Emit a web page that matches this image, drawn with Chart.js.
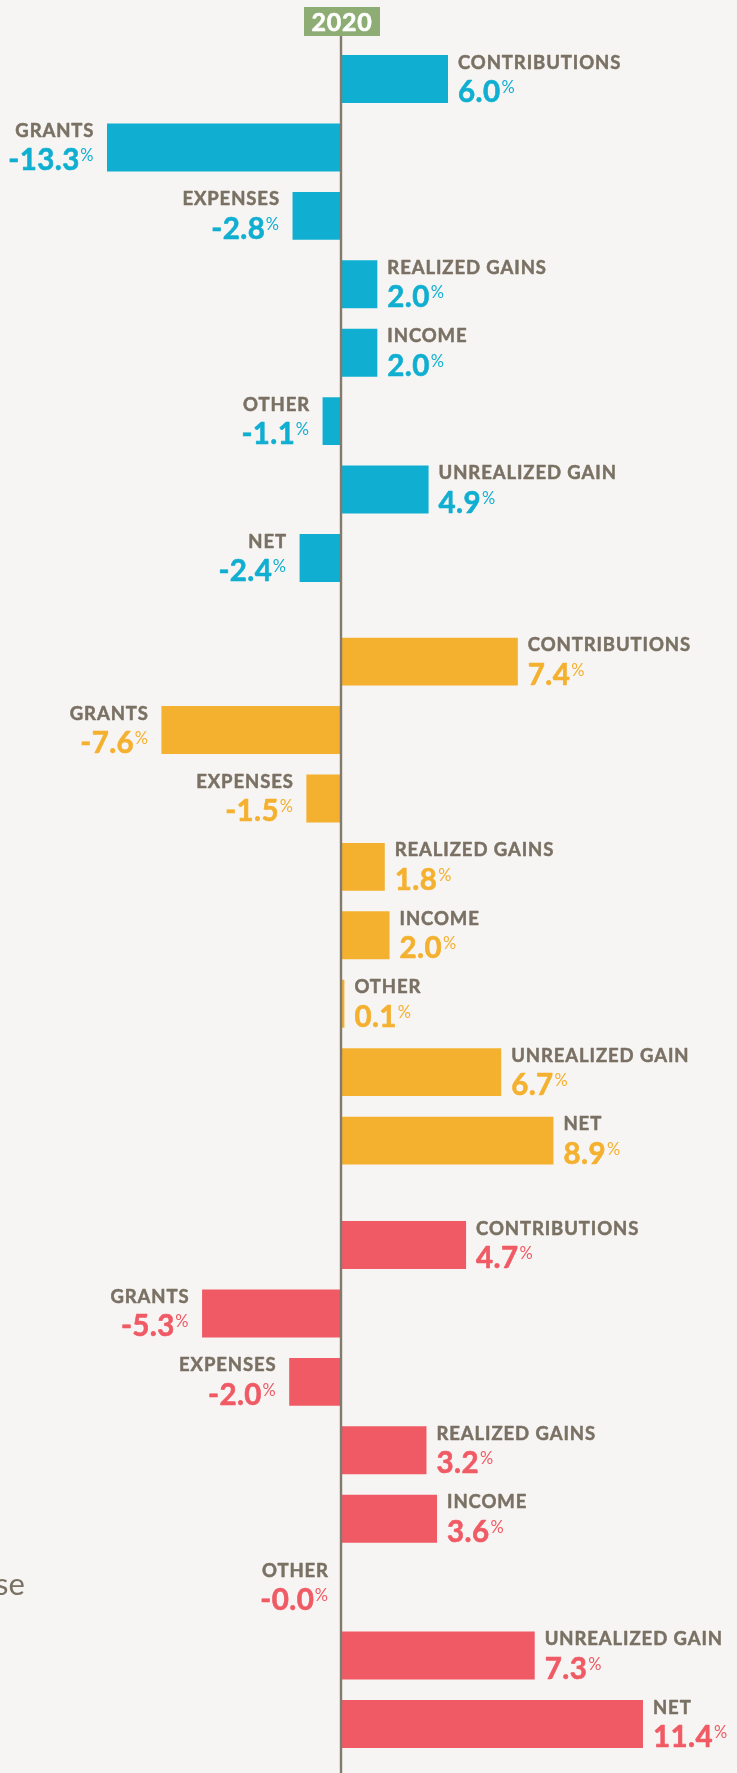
<!DOCTYPE html>
<html>
<head>
<meta charset="utf-8">
<script src="https://cdn.jsdelivr.net/npm/chart.js@4/dist/chart.umd.min.js"></script>
<style>
  html, body { margin: 0; padding: 0; background: #f7f5f3; }
  body { width: 737px; height: 1773px; position: relative; overflow: hidden; }
  canvas { position: absolute; left: 0; }
  .frag { position: absolute; left: -5px; top: 1564px; font: 400 31px Lato, sans-serif; color: #7a7164; }
</style>
</head>
<body>
<canvas id="c1"></canvas>
<canvas id="c2"></canvas>
<canvas id="c3"></canvas>
<div class="frag">se</div>
<script>
// Line items, in drawing order top to bottom within each block
const categories = ["CONTRIBUTIONS", "GRANTS", "EXPENSES", "REALIZED GAINS", "INCOME", "OTHER", "UNREALIZED GAIN", "NET"];

// Percentage changes per block
const blueValues   = [6.0, -13.3, -2.8, 2.0, 2.0, -1.1, 4.9, -2.4];
const yellowValues = [7.4, -7.6, -1.5, 1.8, 2.0, 0.1, 6.7, 8.9];
const redValues    = [4.7, -5.3, -2.0, 3.2, 3.6, -0.02, 7.3, 11.4];

const yearLabel = "2020";

const NAME_COLOR = "#7a7164";
const AXIS_COLOR = "#837a6e";

const NAME_FONT = "700 18.5px Lato, sans-serif";
const NAME_SPACING = "0.9px";
const NUM_FONT = "700 29.5px Lato, sans-serif";
const NUM_SPACING = "0.4px";
const PCT_FONT = "400 16.5px Lato, sans-serif";

// text with a thin outline in the fill colour, for a heavier look
function heavyText(ctx, text, x, y, font, spacing, w) {
  ctx.font = font;
  ctx.letterSpacing = spacing;
  ctx.fillText(text, x, y);
  if (w > 0) {
    ctx.lineWidth = w;
    ctx.strokeStyle = ctx.fillStyle;
    ctx.lineJoin = "round";
    ctx.strokeText(text, x, y);
  }
}

function textWidth(ctx, text, font, spacing) {
  ctx.font = font;
  ctx.letterSpacing = spacing;
  return ctx.measureText(text).width;
}

// Draws the centre axis line, the year tag and the bar annotations
const annotate = {
  id: "annotate",
  afterDatasetsDraw(chart, args, opts) {
    const ctx = chart.ctx;
    const xs = chart.scales.x;
    const zero = xs.getPixelForValue(0);
    const meta = chart.getDatasetMeta(0);
    const ds = chart.data.datasets[0];

    ctx.save();
    // axis line
    ctx.fillStyle = AXIS_COLOR;
    ctx.fillRect(zero - 2.2, opts.lineTop || 0, 2.4, chart.height);

    // year tag
    if (opts.tag) {
      ctx.fillStyle = "#8dad74";
      ctx.fillRect(zero - 38, 7, 76, 29);
      ctx.fillStyle = "#ffffff";
      ctx.textAlign = "center";
      ctx.textBaseline = "alphabetic";
      heavyText(ctx, opts.tag, zero, 31, "700 25px Lato, sans-serif", "0.8px", 0.6);
    }

    meta.data.forEach((bar, i) => {
      const v = ds.data[i];
      const top = bar.y - bar.height / 2;
      const bottom = bar.y + bar.height / 2;
      const num = v.toFixed(1);
      ctx.textBaseline = "alphabetic";

      const nameY = top + 13.5;
      const valY = bottom - 1;
      const numW = textWidth(ctx, num, NUM_FONT, NUM_SPACING);
      const pctW = textWidth(ctx, "%", PCT_FONT, "0px");

      if (v >= 0) {
        const sx = Math.max(bar.x, bar.base) + 10;
        ctx.textAlign = "left";
        ctx.fillStyle = NAME_COLOR;
        heavyText(ctx, categories[i], sx, nameY, NAME_FONT, NAME_SPACING, 0.5);
        ctx.fillStyle = ds.backgroundColor;
        heavyText(ctx, num, sx, valY, NUM_FONT, NUM_SPACING, 0.6);
        heavyText(ctx, "%", sx + numW + 1, valY - 9, PCT_FONT, "0px", 0);
      } else {
        const ex = Math.min(bar.x, bar.base) - 13.5;
        ctx.textAlign = "right";
        ctx.fillStyle = NAME_COLOR;
        heavyText(ctx, categories[i], ex + 0.9, nameY, NAME_FONT, NAME_SPACING, 0.5);
        ctx.fillStyle = ds.backgroundColor;
        heavyText(ctx, "%", ex, valY - 9, PCT_FONT, "0px", 0);
        heavyText(ctx, num, ex - pctW - 1 + 0.4, valY, NUM_FONT, NUM_SPACING, 0.6);
      }
    });
    ctx.restore();
  }
};

const WIDTH = 737;
const ZERO_X = 342;

function makeBlock(id, values, color, cfg) {
  const el = document.getElementById(id);
  el.width = WIDTH;
  el.height = cfg.height;
  el.style.top = cfg.top + "px";
  // horizontal scale: pixels per percent point, zero placed at ZERO_X
  const min = -ZERO_X / cfg.perPct;
  const max = (WIDTH - ZERO_X) / cfg.perPct;
  return new Chart(el, {
    type: "bar",
    data: {
      labels: categories,
      datasets: [{
        data: values,
        backgroundColor: color,
        borderWidth: 0,
        categoryPercentage: 1,
        barPercentage: 0.70
      }]
    },
    options: {
      indexAxis: "y",
      responsive: false,
      animation: false,
      events: [],
      layout: { padding: { top: cfg.padTop, bottom: cfg.padBottom, left: 0, right: 0 } },
      scales: {
        x: { type: "linear", min: min, max: max, display: false },
        y: { type: "category", display: false }
      },
      plugins: {
        legend: { display: false },
        tooltip: { enabled: false },
        annotate: { tag: cfg.tag, lineTop: cfg.lineTop }
      }
    },
    plugins: [annotate]
  });
}

makeBlock("c1", blueValues, "#10afd1",
  { top: 0, height: 610, padTop: 44.8, padBottom: 17.8, perPct: 17.67, tag: yearLabel, lineTop: 36 });
makeBlock("c2", yellowValues, "#f4b02f",
  { top: 610, height: 583, padTop: 17.4, padBottom: 18.2, perPct: 23.76 });
makeBlock("c3", redValues, "#ef5a64",
  { top: 1193, height: 580, padTop: 17.8, padBottom: 14.8, perPct: 26.4 });
</script>
</body>
</html>
